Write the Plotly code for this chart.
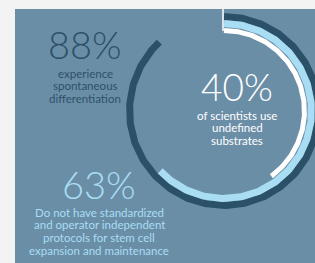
import numpy as np
import plotly.graph_objects as go

# ---- data ----
percent_labels = ["88%", "63%", "40%"]
percent_values = [88, 63, 40]
descriptions = [
    ["experience", "spontaneous", "differentiation"],
    ["Do not have standardized", "and operator independent", "protocols for stem cell", "expansion and maintenance"],
    ["of scientists use", "undefined", "substrates"],
]

# ---- style ----
W, H = 315, 263
PANEL = "#6b8ea7"
BG = "#f3f3f3"
DARK = "#2b5169"
LIGHT = "#a8ddf4"
WHITE = "#ffffff"
ring_colors = [DARK, LIGHT, WHITE]
ring_radii = [94.5, 87.5, 80.5]
ring_widths = [7, 7, 5]
CX, CY = 224, 111
FONT = "Lato"
BIG_FONT = "Lato Light, Lato"
LINE_STEP = 12.7

fig = go.Figure()

for val, col, r, w in zip(percent_values, ring_colors, ring_radii, ring_widths):
    th = np.linspace(0, val / 100 * 2 * np.pi, 400)
    fig.add_trace(go.Scatter(
        x=CX + r * np.sin(th), y=CY - r * np.cos(th),
        mode="lines", line=dict(color=col, width=w),
        hoverinfo="skip", showlegend=False,
    ))

text_pos = [(85, 44, 73), (99, 184, 212), (237, 86, 115)]
text_cols = [DARK, LIGHT, WHITE]
big_sizes = [38, 38, 37]
desc_sizes = [11.5, 11.5, 11.5]
for lab, desc, (x, yb, yd), c, s, ds in zip(percent_labels, descriptions, text_pos, text_cols, big_sizes, desc_sizes):
    fig.add_annotation(x=x, y=yb, text=lab, showarrow=False, xanchor="center", yanchor="middle",
                       font=dict(family=BIG_FONT, size=s, color=c, weight=300))
    for i, line in enumerate(desc):
        fig.add_annotation(x=x, y=yd + i * LINE_STEP, text=line, showarrow=False,
                           xanchor="center", yanchor="middle",
                           font=dict(family=FONT, size=ds, color=c))

fig.update_layout(
    width=W, height=H,
    margin=dict(l=0, r=0, t=0, b=0),
    paper_bgcolor=PANEL, plot_bgcolor=PANEL,
    xaxis=dict(range=[0, W], visible=False, fixedrange=True),
    yaxis=dict(range=[H, 0], visible=False, fixedrange=True),
    shapes=[
        dict(type="rect", xref="paper", yref="paper", x0=0, x1=15 / W, y0=0, y1=1,
             fillcolor=BG, line_width=0, layer="below"),
        dict(type="rect", xref="paper", yref="paper", x0=0, x1=1, y0=1 - 9 / H, y1=1,
             fillcolor=BG, line_width=0, layer="below"),
        dict(type="line", x0=223, x1=223, y0=9, y1=31, line=dict(color=WHITE, width=1.5)),
    ],
)

css = ("html,body{margin:0;padding:0;overflow:hidden;scrollbar-width:none;background:" + PANEL + ";}"
       "::-webkit-scrollbar{display:none;width:0;height:0;}")
post = ("var s=document.createElement('style');s.textContent='" + css + "';"
        "document.head.appendChild(s);")

fig.write_html("out.html", config={"displayModeBar": False}, post_script=post)
